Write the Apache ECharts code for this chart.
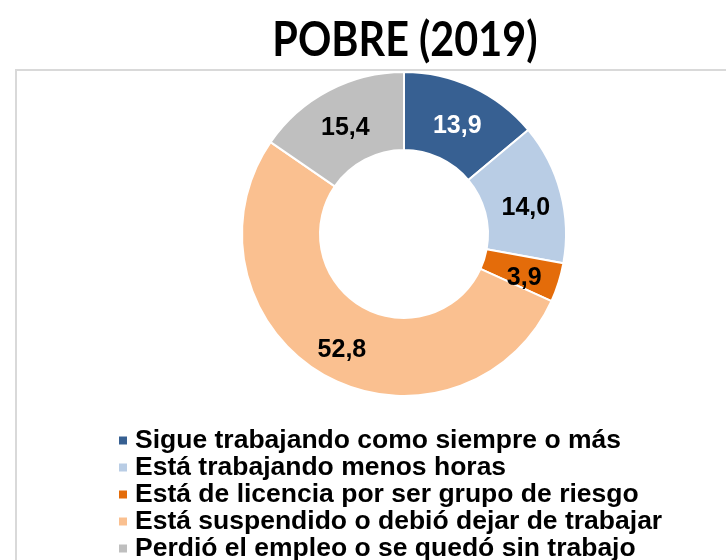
<!DOCTYPE html>
<html>
<head>
<meta charset="utf-8">
<script src="https://cdn.jsdelivr.net/npm/echarts@6/dist/echarts.min.js"></script>
<style>html,body{margin:0;padding:0;background:#fff}#c{width:726px;height:560px}</style>
</head>
<body>
<div id="c"></div>
<script>
const titleText = 'POBRE (2019)';
const categories = [
  'Sigue trabajando como siempre o más',
  'Está trabajando menos horas',
  'Está de licencia por ser grupo de riesgo',
  'Está suspendido o debió dejar de trabajar',
  'Perdió el empleo o se quedó sin trabajo'
];
const values = [13.9, 14.0, 3.9, 52.8, 15.4];
const colors = ['#376092', '#b9cde5', '#e46c0a', '#fac090', '#bfbfbf'];
const labelColors = ['#ffffff', '#000000', '#000000', '#000000', '#000000'];

const chart = echarts.init(document.getElementById('c'), null, {renderer: 'canvas'});
chart.setOption({
  animation: false,
  backgroundColor: '#ffffff',
  graphic: [{
    type: 'rect',
    shape: {x: 16, y: 70, width: 900, height: 700},
    style: {fill: 'none', stroke: '#d9d9d9', lineWidth: 2},
    silent: true,
    z: -1
  }, {
    type: 'text',
    x: 405,
    y: 17,
    scaleX: 0.88,
    style: {
      text: titleText,
      textAlign: 'center',
      textVerticalAlign: 'top',
      fontFamily: 'Lato',
      fontWeight: 'bold',
      fontSize: 47,
      fill: '#000'
    },
    silent: true
  }],
  legend: {
    orient: 'vertical',
    left: 117,
    top: 427,
    height: 300,
    padding: 0,
    itemWidth: 10,
    itemHeight: 10,
    itemGap: 0,
    icon: 'rect',
    data: categories,
    textStyle: {fontFamily: 'Liberation Sans, Arial', fontWeight: 'bold', fontSize: 26.5, color: '#000', lineHeight: 27, padding: [0, 0, 0, 2]}
  },
  series: [{
    type: 'pie',
    center: [404, 234],
    radius: [84, 162],
    startAngle: 90,
    clockwise: true,
    avoidLabelOverlap: false,
    itemStyle: {borderColor: '#ffffff', borderWidth: 2},
    label: {
      show: true,
      position: 'inside',
      offset: [0, 6],
      fontFamily: 'Liberation Sans, Arial',
      fontWeight: 'bold',
      fontSize: 25,
      formatter: p => p.value.toFixed(1).replace('.', ',')
    },
    labelLine: {show: false},
    data: categories.map((n, i) => ({
      name: n,
      value: values[i],
      itemStyle: {color: colors[i]},
      label: {color: labelColors[i]}
    }))
  }]
});
</script>
</body>
</html>
